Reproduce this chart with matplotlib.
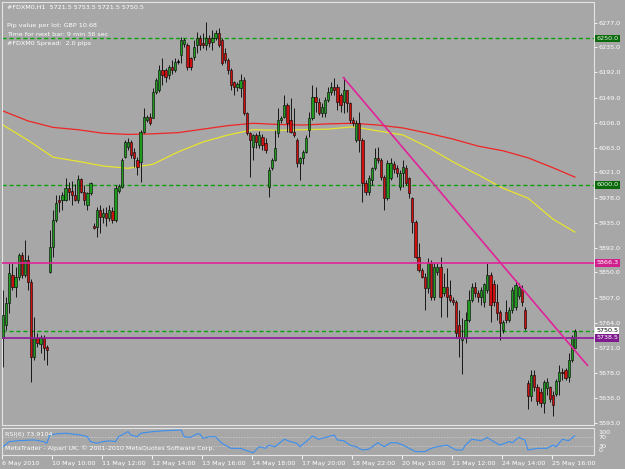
import matplotlib
matplotlib.use("Agg")
import matplotlib.pyplot as plt
import numpy as np
from matplotlib.transforms import blended_transform_factory

# ---------------------------------------------------------------------------
# Data: #FDXM0 H1 candles, 6 May - 25 May 2010
# ---------------------------------------------------------------------------
OPEN = [
    5738, 5760, 5797, 5845, 5825, 5842, 5880, 5846, 5871, 5833,
    5705, 5738, 5727, 5738, 5722, 5850, 5893, 5940, 5974, 5974,
    5974, 5994, 5990, 5982, 5974, 6009, 5987, 5965, 5985, 5930,
    5927, 5957, 5945, 5952, 5943, 5955, 5940, 5990, 5996, 6047,
    6065, 6073, 6056, 6042, 6039, 6090, 6111, 6116, 6114, 6158,
    6162, 6196, 6196, 6187, 6201, 6196, 6210, 6222, 6240, 6239,
    6216, 6218, 6239, 6251, 6242, 6239, 6251, 6244, 6250, 6259,
    6247, 6225, 6213, 6196, 6175, 6167, 6165, 6179, 6122, 6088,
    6064, 6085, 6068, 6082, 6072, 5996, 6028, 6042, 6088, 6111,
    6116, 6136, 6111, 6090, 6076, 6037, 6045, 6056, 6094, 6114,
    6150, 6141, 6122, 6122, 6145, 6158, 6167, 6167, 6153, 6141,
    6162, 6139, 6111, 6076, 6106, 6076, 6003, 5987, 6008, 6028,
    6045, 6042, 6013, 5977, 6011, 6035, 6028, 5996, 6020, 6028,
    6011, 5977, 5936, 5876, 5854, 5842, 5823, 5866, 5808, 5850,
    5859, 5815, 5825, 5812, 5803, 5800, 5760, 5734, 5738, 5769,
    5803, 5825, 5815, 5808, 5799, 5820, 5845, 5830, 5800, 5783,
    5752, 5783, 5769, 5786, 5790, 5810, 5822, 5786, 5661, 5638,
    5674, 5654, 5645, 5627, 5652, 5654, 5640, 5642, 5664, 5680,
    5683, 5671, 5700, 5721.5,
]
HIGH = [
    5820, 5808, 5866, 5866, 5859, 5883, 5885, 5905, 5880, 5838,
    5774, 5746, 5743, 5743, 5726, 5922, 5957, 5982, 5982, 5987,
    6011, 6004, 6007, 6002, 6016, 6011, 5999, 5987, 6004, 5934,
    5962, 5965, 5960, 5962, 5966, 5962, 5999, 6002, 6045, 6077,
    6080, 6076, 6063, 6047, 6094, 6131, 6120, 6123, 6165, 6182,
    6204, 6216, 6200, 6205, 6213, 6216, 6215, 6252, 6250, 6242,
    6218, 6247, 6261, 6256, 6259, 6278, 6256, 6264, 6264, 6268,
    6250, 6233, 6216, 6199, 6177, 6175, 6190, 6184, 6124, 6090,
    6087, 6088, 6092, 6087, 6080, 6030, 6045, 6094, 6131, 6118,
    6153, 6140, 6148, 6131, 6080, 6047, 6060, 6085, 6124, 6170,
    6167, 6148, 6140, 6150, 6167, 6175, 6182, 6173, 6157, 6184,
    6162, 6141, 6116, 6111, 6124, 6080, 6008, 6016, 6030, 6062,
    6064, 6045, 6016, 6042, 6045, 6040, 6033, 6025, 6042, 6033,
    6013, 5979, 5940, 5900, 5857, 5849, 5874, 5871, 5868, 5866,
    5876, 5849, 5857, 5837, 5808, 5803, 5786, 5772, 5783, 5820,
    5832, 5834, 5820, 5825, 5832, 5866, 5850, 5837, 5830, 5786,
    5769, 5803, 5790, 5825, 5837, 5832, 5828, 5790, 5666, 5683,
    5683, 5659, 5652, 5666, 5669, 5655, 5648, 5668, 5692, 5686,
    5686, 5712, 5743, 5753.5,
]
LOW = [
    5688, 5751, 5780, 5820, 5808, 5837, 5841, 5842, 5820, 5663,
    5700, 5722, 5712, 5700, 5691, 5849, 5876, 5936, 5953, 5957,
    5972, 5974, 5965, 5972, 5969, 5985, 5965, 5957, 5982, 5924,
    5910, 5918, 5935, 5930, 5938, 5935, 5936, 5985, 5994, 6045,
    6060, 6045, 6030, 6016, 6004, 6088, 6108, 6102, 6114, 6155,
    6158, 6170, 6175, 6180, 6190, 6193, 6206, 6208, 6236, 6196,
    6196, 6213, 6225, 6230, 6233, 6230, 6236, 6230, 6247, 6236,
    6204, 6208, 6190, 6162, 6153, 6160, 6150, 6119, 6085, 6013,
    6042, 6062, 6062, 6060, 6055, 5979, 6025, 6040, 6082, 6105,
    6114, 6090, 6088, 6082, 6030, 6008, 6035, 6054, 6082, 6111,
    6124, 6119, 6116, 6116, 6141, 6153, 6153, 6128, 6124, 6122,
    6124, 6106, 6100, 6073, 6056, 5970, 5982, 5982, 6000, 6025,
    6037, 6008, 5957, 5974, 6008, 6020, 6013, 5991, 5996, 5999,
    5977, 5917, 5874, 5851, 5840, 5786, 5815, 5803, 5803, 5845,
    5774, 5810, 5774, 5800, 5795, 5738, 5705, 5676, 5730, 5765,
    5800, 5808, 5800, 5795, 5790, 5815, 5765, 5793, 5769, 5734,
    5746, 5763, 5765, 5780, 5786, 5805, 5793, 5751, 5616, 5630,
    5648, 5624, 5620, 5610, 5640, 5628, 5605, 5638, 5640, 5666,
    5666, 5662, 5697, 5721.5,
]
CLOSE = [
    5777, 5797, 5849, 5825, 5842, 5880, 5846, 5871, 5833, 5705,
    5738, 5730, 5738, 5721, 5718, 5893, 5940, 5968, 5970, 5982,
    5994, 5987, 5982, 5974, 6009, 5987, 5974, 5985, 6003, 5926,
    5957, 5945, 5952, 5943, 5957, 5940, 5994, 5998, 6042, 6073,
    6073, 6050, 6045, 6030, 6090, 6116, 6116, 6106, 6158, 6179,
    6196, 6187, 6184, 6201, 6196, 6210, 6210, 6247, 6247, 6201,
    6201, 6235, 6251, 6239, 6239, 6251, 6242, 6250, 6259, 6239,
    6208, 6213, 6196, 6170, 6167, 6172, 6179, 6122, 6088, 6076,
    6085, 6073, 6085, 6068, 6060, 6025, 6042, 6062, 6111, 6114,
    6136, 6106, 6090, 6085, 6037, 6045, 6056, 6080, 6114, 6150,
    6141, 6122, 6133, 6145, 6158, 6167, 6162, 6141, 6136, 6162,
    6139, 6111, 6106, 6106, 6076, 6003, 5987, 6011, 6028, 6045,
    6042, 6013, 5977, 6037, 6037, 6026, 6020, 6020, 6030, 6003,
    5985, 5936, 5876, 5854, 5842, 5823, 5866, 5808, 5859, 5859,
    5808, 5825, 5808, 5803, 5800, 5746, 5740, 5738, 5769, 5803,
    5825, 5815, 5808, 5820, 5830, 5845, 5794, 5800, 5780, 5764,
    5765, 5769, 5786, 5820, 5828, 5825, 5800, 5755, 5638, 5674,
    5654, 5630, 5627, 5662, 5662, 5634, 5624, 5664, 5680, 5678,
    5669, 5700, 5739, 5750.5,
]

# moving averages, sampled every 8 bars
MA_BARS = [0, 8, 16, 24, 32, 40, 48, 56, 64, 72, 80, 88, 96, 104,
           112, 120, 128, 136, 144, 152, 160, 168, 176, 183]
MA_RED = [6126, 6109, 6098, 6094, 6088, 6086, 6087, 6089, 6095, 6101, 6105, 6103,
          6102, 6104, 6105, 6102, 6097, 6088, 6078, 6066, 6058, 6046, 6029, 6013]
MA_YELLOW = [6102, 6076, 6047, 6040, 6032, 6028, 6035, 6056, 6073, 6085, 6094, 6093,
             6094, 6095, 6099, 6092, 6085, 6064, 6039, 6017, 5994, 5977, 5941, 5919]

# RSI(6)
RSI_BARS = [0, 2, 5, 10, 13, 14, 15, 17, 20, 22, 25, 27, 28, 30, 32, 34, 36, 37,
            40, 41, 43, 44, 48, 52, 57, 58, 60, 62, 63, 64, 66, 68, 70, 73, 76,
            78, 80, 82, 84, 85, 87, 90, 92, 94, 95, 97, 99, 101, 104, 106, 107,
            109, 111, 113, 115, 117, 120, 122, 124, 126, 128, 130, 132, 135, 137,
            139, 142, 144, 145, 147, 148, 150, 153, 155, 157, 159, 162, 163, 165,
            167, 168, 171, 174, 176, 177, 179, 181, 183]
RSI_VALS = [27, 49, 53, 56, 49, 42, 77, 82, 85, 82, 77, 70, 49, 42, 49, 52, 49, 70,
            92, 77, 70, 85, 92, 96, 99, 70, 67, 82, 82, 63, 70, 70, 42, 20, 20,
            10, 1, 27, 20, 34, 27, 59, 49, 42, 27, 49, 73, 59, 70, 77, 56,
            53, 34, 27, 13, 16, 44, 27, 44, 44, 34, 20, 6, 6, 20,
            27, 34, 20, 13, 13, 34, 59, 53, 67, 49, 34, 49, 44, 67,
            56, 13, 20, 20, 34, 27, 59, 53, 73.9]

# chart objects
LEVEL_6250 = 6250.0
LEVEL_6000 = 6000.0
LEVEL_BID = 5750.5
LEVEL_5866 = 5866.3
LEVEL_5738 = 5738.5
TREND_BARS = [108.8, 187.2]
TREND_PRICES = [6184, 5690]

PRICE_TICKS = [6277, 6235, 6192, 6149, 6106, 6063, 6021, 5978, 5935,
               5892, 5850, 5807, 5764, 5721, 5678, 5636, 5593]
TIME_TICKS = [0, 16, 32, 48, 64, 80, 96, 112, 128, 144, 160, 176]
TIME_LABELS = ["6 May 2010", "10 May 10:00", "11 May 12:00", "12 May 14:00",
               "13 May 16:00", "14 May 18:00", "17 May 20:00", "18 May 22:00",
               "20 May 10:00", "21 May 12:00", "24 May 14:00", "25 May 16:00"]

# ---------------------------------------------------------------------------
# Style
# ---------------------------------------------------------------------------
BG = "#a7a7a7"
FRAME = "#e4e4e4"
TXT = "#ffffff"
BULL = "#1f9a1f"
BEAR = "#cc1010"
GREEN_DASH = "#0fa00f"
MAGENTA = "#e0239a"
PURPLE = "#8e1c9c"
FS = 4.6

plt.rcParams.update({"font.family": "DejaVu Sans", "font.size": FS})

W, H = 625, 469
fig = plt.figure(figsize=(W / 100, H / 100), dpi=100, facecolor=BG)


def box(x0, y0, x1, y1):
    return [x0 / W, 1 - y1 / H, (x1 - x0) / W, (y1 - y0) / H]


def price_at(y):
    return 6277 - (y - 22.7) * 1.71


ax = fig.add_axes(box(2, 2, 594, 425))
ax2 = fig.add_axes(box(2, 428, 594, 455))
xlim = ((2 - 3) / 3.125, (594 - 3) / 3.125)

for a in (ax, ax2):
    a.set_facecolor(BG)
    a.set_xlim(*xlim)
    for s in a.spines.values():
        s.set_color(FRAME)
        s.set_linewidth(0.8)

ax.set_ylim(price_at(425), price_at(2))
ax2.set_ylim(-8.6, 107.5)

o = np.array(OPEN, dtype=float)
h = np.array(HIGH, dtype=float)
l = np.array(LOW, dtype=float)
c = np.array(CLOSE, dtype=float)
x = np.arange(len(o))

# moving averages (behind candles)
ax.plot(MA_BARS, MA_RED, color="#f02424", lw=0.9, zorder=1)
ax.plot(MA_BARS, MA_YELLOW, color="#e8e42c", lw=0.9, zorder=1)

# dashed horizontal lines
for lvl in (LEVEL_6250, LEVEL_6000, LEVEL_BID):
    ax.axhline(lvl, color=GREEN_DASH, lw=1.0, ls=(0, (3, 2)), zorder=1.5)

# candles
ax.vlines(x, l, h, color="black", lw=0.6, zorder=2)
colors = np.where(c > o, BULL, np.where(c < o, BEAR, "black"))
heights = np.maximum(np.abs(c - o), 1.2)
ax.bar(x, heights, bottom=np.minimum(o, c), width=0.72, color=colors,
       edgecolor="black", linewidth=0.4, zorder=3)

# line objects
ax.axhline(LEVEL_5866, color=MAGENTA, lw=1.2, zorder=4)
ax.axhline(LEVEL_5738, color=PURPLE, lw=1.2, zorder=4)
ax.plot(TREND_BARS, TREND_PRICES, color=MAGENTA, lw=1.2, zorder=4,
        solid_capstyle="butt")

# price axis
ax.yaxis.tick_right()
ax.set_yticks(PRICE_TICKS)
ax.set_yticklabels([f"{v:.1f}" for v in PRICE_TICKS])
ax.tick_params(axis="y", colors=TXT, labelsize=FS, length=2, width=0.6, pad=1.5)
ax.set_xticks([])

# price boxes on the axis
tr = blended_transform_factory(ax.transAxes, ax.transData)
for lvl, fc, tc in [(LEVEL_6250, "#0b6a0b", "#e6f3e6"),
                    (LEVEL_6000, "#0b6a0b", "#e6f3e6"),
                    (LEVEL_5866, "#d0208e", "#ffffff"),
                    (LEVEL_BID, "#ffffff", "#000000"),
                    (LEVEL_5738, "#7e1a8e", "#ffffff")]:
    ax.text(1.0035, lvl, f"{lvl:.1f}", transform=tr, ha="left", va="center",
            fontsize=FS, color=tc, clip_on=False, zorder=10,
            bbox=dict(boxstyle="square,pad=0.22", fc=fc, ec="none"))

# RSI pane
ax2.axhline(70, color="#d2d2d2", lw=0.5, ls=(0, (2, 2)))
ax2.axhline(30, color="#d2d2d2", lw=0.5, ls=(0, (2, 2)))
ax2.plot(RSI_BARS, RSI_VALS, color="#3b8ff0", lw=0.8)
ax2.yaxis.tick_right()
ax2.set_yticks([0, 30, 70, 100])
ax2.set_yticklabels(["0", "30", "70", "100"])
ax2.tick_params(axis="y", colors=TXT, labelsize=FS, length=0, pad=3)
labs = ax2.get_yticklabels()
labs[0].set_va("bottom")
labs[3].set_va("top")

ax2.set_xticks([t - 0.3 for t in TIME_TICKS])
ax2.set_xticklabels(TIME_LABELS)
ax2.tick_params(axis="x", colors=TXT, labelsize=FS, length=3, width=0.6, pad=1.5)
for lab in ax2.get_xticklabels():
    lab.set_ha("left")


def ftxt(px, py, s):
    fig.text(px / W, 1 - py / H, s, color=TXT, fontsize=FS, ha="left", va="center")


ftxt(7, 7.5, "#FDXM0,H1  5721.5 5753.5 5721.5 5750.5")
ftxt(7, 25, "Pip value per lot: GBP 10.68")
ftxt(7, 34.5, "Time for next bar: 9 min 36 sec")
ftxt(7, 44, "#FDXM0 Spread:  2.0 pips")
ftxt(5, 434.5, "RSI(6) 73.9104")
ftxt(5, 448.5, "MetaTrader - Alpari UK, \u00a9 2001-2010 MetaQuotes Software Corp.")

fig.savefig("out.png", dpi=100, facecolor=BG)
